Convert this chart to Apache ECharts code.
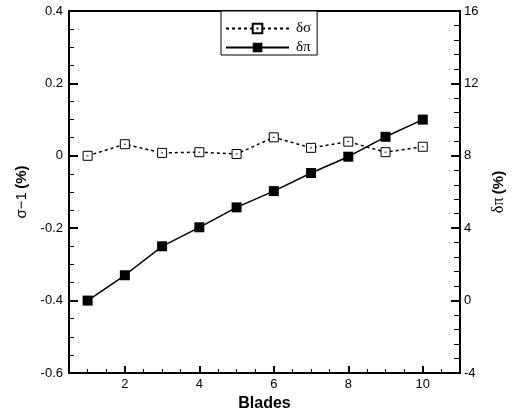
<!DOCTYPE html>
<html>
<head>
<meta charset="utf-8">
<script src="https://cdn.jsdelivr.net/npm/echarts@6/dist/echarts.min.js"></script>
<style>
  html, body { margin: 0; padding: 0; background: #fff; }
  #chart { width: 515px; height: 417px; }
</style>
</head>
<body>
<div id="chart"></div>
<script>
// blades (x), two series
const blades = [1, 2, 3, 4, 5, 6, 7, 8, 9, 10]
const dSigma = [0.0, 0.032, 0.008, 0.01, 0.005, 0.051, 0.022, 0.039, 0.01, 0.025]
const dPi = [0.0, 1.4, 3.0, 4.05, 5.15, 6.05, 7.05, 7.95, 9.05, 10.0]

const xMajorTicks = [2, 4, 6, 8, 10]
const xMinorTicks = [1, 1.5, 2.5, 3, 3.5, 4.5, 5, 5.5, 6.5, 7, 7.5, 8.5, 9, 9.5, 10.5]

const chart = echarts.init(document.getElementById('chart'))

const labelFont = { color: '#000', fontFamily: 'Liberation Sans', fontSize: 13 }

const option = {
  backgroundColor: '#fff',
  animation: false,
  grid: {
    left: 69,
    top: 11,
    right: 49,
    bottom: 44,
    show: true,
    borderColor: '#000',
    borderWidth: 2
  },
  legend: {
    orient: 'vertical',
    left: 221,
    top: 11,
    padding: [10, 6, 0, 4],
    itemGap: 4,
    itemWidth: 63,
    itemHeight: 12,
    backgroundColor: '#fff',
    borderColor: '#000',
    borderWidth: 1,
    textStyle: { color: '#000', fontFamily: 'Liberation Serif', fontSize: 15, lineHeight: 14, padding: [0, 0, 0, 2] },
    data: ['δσ', 'δπ']
  },
  xAxis: [
    {
      type: 'value',
      min: 0.5,
      max: 11,
      name: 'Blades',
      nameLocation: 'middle',
      nameGap: 22,
      nameTextStyle: { color: '#000', fontFamily: 'Liberation Sans', fontWeight: 'bold', fontSize: 16 },
      axisLine: { show: false, onZero: false },
      splitLine: { show: false },
      axisTick: { inside: true, length: 7, customValues: xMajorTicks, lineStyle: { color: '#000', width: 2 } },
      axisLabel: { customValues: xMajorTicks, margin: 5, ...labelFont }
    },
    {
      type: 'value',
      min: 0.5,
      max: 11,
      position: 'bottom',
      axisLine: { show: false, onZero: false },
      splitLine: { show: false },
      axisTick: { inside: true, length: 4, customValues: xMinorTicks, lineStyle: { color: '#000', width: 1 } },
      axisLabel: { show: false }
    }
  ],
  yAxis: [
    {
      type: 'value',
      position: 'left',
      min: -0.6,
      max: 0.4,
      interval: 0.2,
      name: '{a|σ−1} {b|(%)}',
      nameLocation: 'middle',
      nameRotate: 90,
      nameGap: 39,
      nameTextStyle: {
        rich: {
          a: { color: '#000', fontFamily: 'Liberation Sans', fontSize: 15 },
          b: { color: '#000', fontFamily: 'Liberation Sans', fontWeight: 'bold', fontSize: 15 }
        }
      },
      axisLine: { show: false, onZero: false },
      splitLine: { show: false },
      axisTick: { inside: true, length: 9, lineStyle: { color: '#000', width: 2 } },
      minorTick: { show: true, splitNumber: 4, length: 5, lineStyle: { color: '#000', width: 1 } },
      axisLabel: {
        margin: 6,
        ...labelFont,
        formatter: (v) => String(parseFloat(v.toFixed(1)))
      }
    },
    {
      type: 'value',
      position: 'right',
      min: -4,
      max: 16,
      interval: 4,
      name: '{a|δπ} {b|(%)}',
      nameLocation: 'middle',
      nameRotate: 90,
      nameGap: 31,
      nameTextStyle: {
        rich: {
          a: { color: '#000', fontFamily: 'Liberation Serif', fontSize: 16 },
          b: { color: '#000', fontFamily: 'Liberation Sans', fontWeight: 'bold', fontSize: 15 }
        }
      },
      axisLine: { show: false, onZero: false },
      splitLine: { show: false },
      axisTick: { inside: true, length: 9, lineStyle: { color: '#000', width: 2 } },
      minorTick: { show: true, splitNumber: 5, length: 6, lineStyle: { color: '#000', width: 1 } },
      axisLabel: { margin: 4, ...labelFont }
    }
  ],
  series: [
    {
      name: 'δσ',
      type: 'line',
      xAxisIndex: 0,
      yAxisIndex: 0,
      data: blades.map((b, i) => [b, dSigma[i]]),
      symbol: 'path://M0,0H10V10H0Z M4,5H6',
      symbolSize: 9,
      itemStyle: { color: '#fff', borderColor: '#000', borderWidth: 1 },
      lineStyle: { color: '#000', width: 1.5, type: [3, 3] },
      z: 3
    },
    {
      name: 'δπ',
      type: 'line',
      xAxisIndex: 0,
      yAxisIndex: 1,
      data: blades.map((b, i) => [b, dPi[i]]),
      symbol: 'rect',
      symbolSize: 10,
      itemStyle: { color: '#000' },
      lineStyle: { color: '#000', width: 1.5 },
      z: 2
    }
  ]
}

chart.setOption(option)
</script>
</body>
</html>
